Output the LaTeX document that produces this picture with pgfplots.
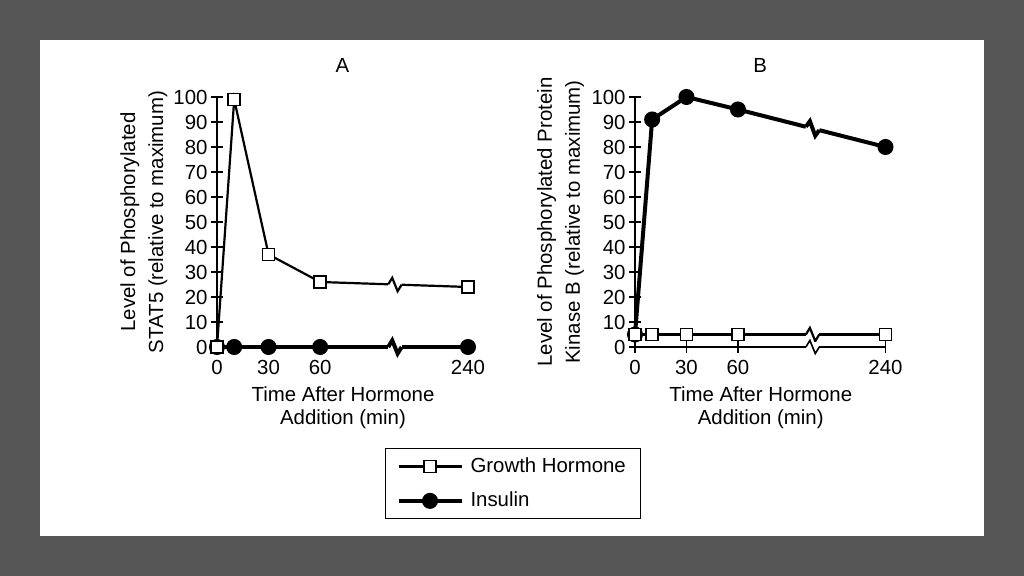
\documentclass[border=0pt]{standalone}
\usepackage{fontspec}
\setmainfont{Liberation Sans}
\usepackage{pgfplots}
\pgfplotsset{compat=1.18}
\usetikzlibrary{calc}
\definecolor{bggray}{HTML}{555555}

\newcommand{\zz}[5]{%
 \draw[white,line width=5pt] (axis cs:#1,#2) -- (axis cs:#3,#4);
 \draw[black,line width=#5,line join=miter] (axis cs:#1,#2) -- ($(axis cs:#1,#2)!0.3!(axis cs:#3,#4)+(0,3.3pt)$) -- ($(axis cs:#1,#2)!0.7!(axis cs:#3,#4)+(0,-3.3pt)$) -- (axis cs:#3,#4);
}

\pgfplotsset{
 common/.style={
  scale only axis,
  axis lines=left,
  axis line style={-,line width=0.8pt},
  xmin=0,xmax=240,ymin=0,ymax=100,
  x coord trafo/.code={\pgfmathparse{(##1>100)?(##1-94):(##1)}},
  x coord inv trafo/.code={\pgfmathparse{(##1>100)?(##1+94):(##1)}},
  xtick={0,30,60,240}, xticklabels={0,30,60,240},
  ytick={0,10,20,30,40,50,60,70,80,90,100},
  tick align=center, major tick length=6pt,
  tick style={line width=0.8pt, black},
  ticklabel style={font=\fontsize{10.2}{12}\selectfont},
  yticklabel style={xshift=1.8pt},
  /pgf/number format/assume math mode=true,
  clip=false,
  enlargelimits=false,
  title style={at={(0.5,1.08)}, anchor=center, font=\fontsize{10.2}{12}\selectfont},
  xlabel={Time After Hormone\\Addition (min)},
  xlabel style={align=center, at={(axis description cs:0.502,-0.242)}, anchor=center, font=\fontsize{10.2}{11.5}\selectfont},
  ylabel style={align=center, anchor=center, font=\fontsize{10.2}{14}\selectfont},
 },
 gh/.style={black, line width=1.1pt, mark=square*, mark size=3pt, mark options={fill=white, line width=0.7pt}},
 ins/.style={black, line width=2pt, mark=*, mark size=3pt, mark options={fill=black}},
}

\begin{document}
\begin{tikzpicture}
\fill[bggray] (0,0) rectangle (512pt,288pt);
\fill[white] (20pt,20pt) rectangle (492pt,268pt);
\useasboundingbox (0,0) rectangle (512pt,288pt);

\begin{axis}[common,
  at={(108.5pt,114.5pt)}, anchor=south west,
  width=125.5pt, height=125pt,
  title={A},
  major x tick style={draw=none},
  ylabel={Level of Phosphorylated\\STAT5 (relative to maximum)},
  ylabel style={at={(axis description cs:-0.291,0.5)}},
  legend style={at={(0.669,-0.404)}, anchor=north west, draw=black, line width=0.6pt,
     font=\fontsize{10.2}{12}\selectfont, inner xsep=5.5pt, inner ysep=2.5pt,
     row sep=4.3pt, column sep=1.5pt},
  legend cell align=left,
  legend image code/.code={\draw[mark repeat=2,mark phase=2,#1] plot coordinates {(0pt,0pt) (15.75pt,0pt) (31.5pt,0pt)};},
]
\addlegendimage{gh}
\addlegendentry{Growth Hormone}
\addlegendimage{ins}
\addlegendentry{Insulin}
\addplot[ins, forget plot] coordinates {(0,0) (10,0) (30,0) (60,0) (240,0)};
\addplot[gh, forget plot] coordinates {(0,0) (10,99) (30,37) (60,26) (240,24)};
\zz{193.6}{25.08}{201.4}{24.9}{1.1pt}
\zz{193.6}{0}{201.4}{0}{2pt}
\end{axis}

\begin{axis}[common,
  at={(317.5pt,114.5pt)}, anchor=south west,
  width=125.25pt, height=125pt,
  title={B},
  ylabel={Level of Phosphorylated Protein\\Kinase B (relative to maximum)},
  ylabel style={at={(axis description cs:-0.297,0.5)}},
]
\addplot[ins] coordinates {(0,5) (10,91) (30,100) (60,95) (240,80)};
\addplot[gh] coordinates {(0,5) (10,5) (30,5) (60,5) (240,5)};
\zz{193.6}{88.09}{201.4}{86.73}{2pt}
\zz{193.6}{5}{201.4}{5}{1.1pt}
\zz{193.6}{0}{201.4}{0}{0.8pt}
\end{axis}
\end{tikzpicture}
\end{document}
